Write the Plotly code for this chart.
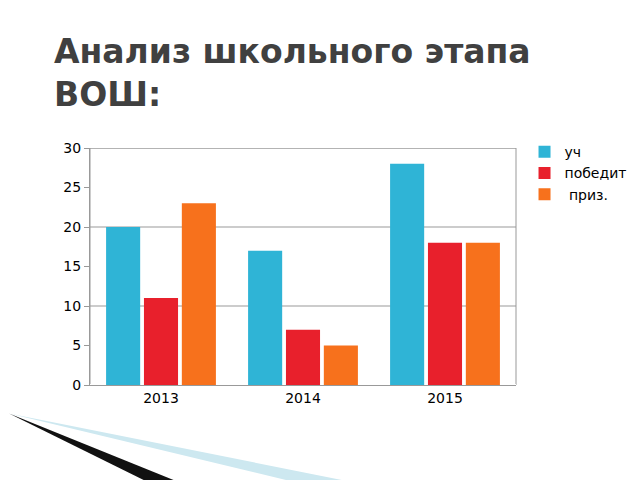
import plotly.graph_objects as go

years = ['2013', '2014', '2015']
uch = [20, 17, 28]
pobedit = [11, 7, 18]
priz = [23, 5, 18]

fig = go.Figure()
fig.add_bar(x=years, y=uch, name='уч', marker_color='#2fb4d6')
fig.add_bar(x=years, y=pobedit, name='победит', marker_color='#e8202c')
fig.add_bar(x=years, y=priz, name=' приз.', marker_color='#f7711c')

fig.update_traces(marker_line_width=0)
fig.update_layout(
    width=640, height=480,
    paper_bgcolor='white', plot_bgcolor='white',
    font=dict(family='DejaVu Sans', size=14, color='black'),
    margin=dict(l=82, r=132, t=140, b=103),
    barmode='group', bargap=0.2, bargroupgap=0.1,
    legend=dict(x=1.02, y=1.05, xanchor='left', yanchor='top', font=dict(size=14)),
    xaxis=dict(showline=True, linecolor='#999', ticks=''),
    yaxis=dict(range=[0, 30], dtick=5, showgrid=False, showline=True, linecolor='#999',
               ticks='outside', ticklen=5, tickcolor='#999'),
)
fig.add_annotation(text='<b>Анализ школьного этапа<br>ВОШ:</b>', xref='paper', yref='paper',
                   x=-0.09, y=1.5, xanchor='left', yanchor='top', showarrow=False, align='left',
                   font=dict(size=33, color='#404040'))
for v in [10, 20, 30]:
    fig.add_shape(type='line', xref='x domain', yref='y', x0=0, x1=1, y0=v, y1=v,
                  line=dict(color='#999', width=1), layer='below')
fig.add_shape(type='rect', xref='x domain', yref='y', x0=0, x1=1, y0=0, y1=30,
              line=dict(color='#999', width=1), layer='below')
# decorative swoosh bottom left
fig.add_shape(type='path', xref='paper', yref='paper',
              path='M -0.19 -0.12 L 0.25 -0.44 L 0.17 -0.44 Z', fillcolor='#111', line_width=0)
fig.add_shape(type='path', xref='paper', yref='paper',
              path='M -0.19 -0.12 L 0.7 -0.44 L 0.55 -0.44 Z', fillcolor='#cde8f0', line_width=0,
              layer='below')
fig.write_html('out.html')
